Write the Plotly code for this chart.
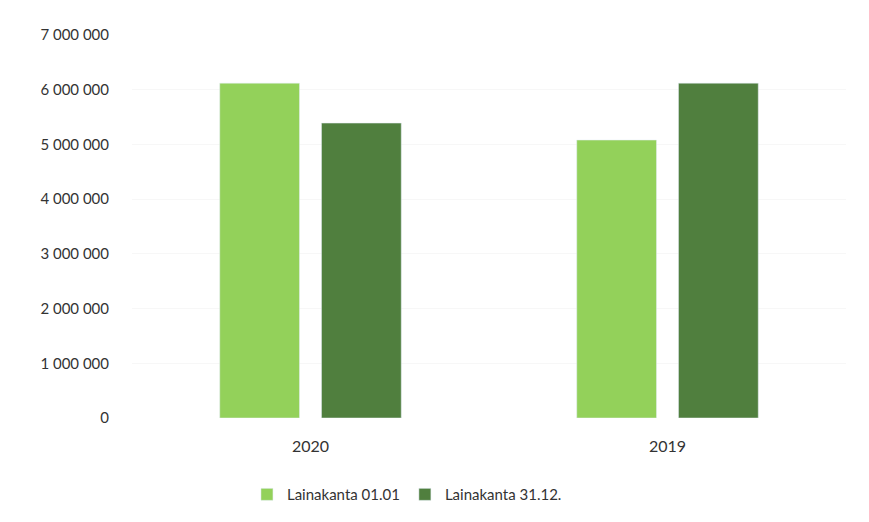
import plotly.graph_objects as go

categories = ["2020", "2019"]
series_names = ["Lainakanta 01.01", "Lainakanta 31.12."]
values_0101 = [6120000, 5080000]
values_3112 = [5390000, 6120000]
y_ticks = [0, 1000000, 2000000, 3000000, 4000000, 5000000, 6000000, 7000000]

colors = ["#93D15A", "#507F3E"]

fig = go.Figure()
fig.add_trace(go.Bar(x=categories, y=values_0101, name=series_names[0], marker_color=colors[0]))
fig.add_trace(go.Bar(x=categories, y=values_3112, name=series_names[1], marker_color=colors[1]))

fig.update_layout(
    width=869, height=522,
    margin=dict(l=124, r=31, t=27, b=112),
    paper_bgcolor="white", plot_bgcolor="white",
    barmode="group", bargap=0.43, bargroupgap=0.216,
    separators=". ",
    font=dict(family="Lato, Open Sans, sans-serif", size=15, color="#333333"),
    legend=dict(orientation="h", x=0.161, xanchor="left", y=-0.2, yanchor="middle",
                font=dict(size=15, color="#333333"), itemwidth=30),
    showlegend=True,
)
fig.update_yaxes(range=[0, 7000000], tickvals=y_ticks, tickformat=",d",
                 showgrid=True, gridcolor="#F7F7F7", zeroline=False,
                 ticks="", ticklen=0, ticklabelstandoff=22)
fig.update_xaxes(showline=False, ticks="", tickfont=dict(size=16), ticklabelstandoff=17)

fig.write_html("out.html")
